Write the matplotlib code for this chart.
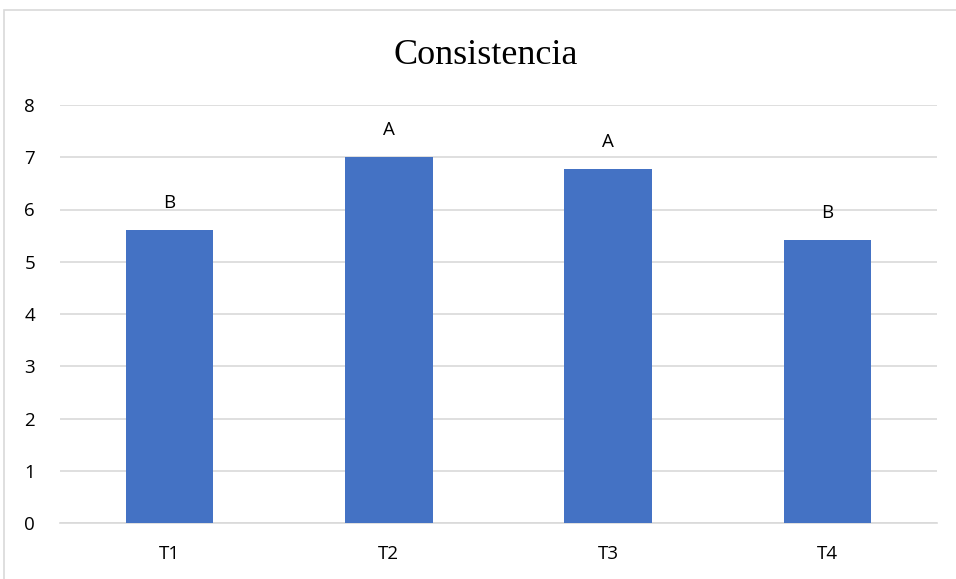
import matplotlib
matplotlib.use("Agg")
import matplotlib.pyplot as plt
from matplotlib.patches import Rectangle

categories = ["T1", "T2", "T3", "T4"]
values = [5.61, 7.0, 6.78, 5.42]
letters = ["B", "A", "A", "B"]
yticks = [0, 1, 2, 3, 4, 5, 6, 7, 8]

W, H = 956, 579
fig = plt.figure(figsize=(W / 100, H / 100), dpi=100)
fig.patch.set_facecolor("white")

# outer chart border
fig.patches.append(Rectangle((3.5 / W, -0.05), 1.2, 1 - 9.5 / H + 0.05,
                             transform=fig.transFigure, fill=False,
                             edgecolor="#d9d9d9", linewidth=1.2))

ax = fig.add_axes([60 / W, 1 - 523 / H, (937 - 60) / W, (523 - 105) / H])
x = list(range(len(categories)))
ax.bar(x, values, width=0.4, color="#4472c4", zorder=3)
ax.set_xlim(-0.5, len(categories) - 0.5)
ax.set_ylim(0, 8)
ax.set_yticks(yticks)
ax.set_xticks(x)
ax.set_xticklabels(categories)
ax.grid(axis="y", color="#d9d9d9", linewidth=1.2, zorder=0)
for s in ["top", "right", "left"]:
    ax.spines[s].set_visible(False)
ax.spines["bottom"].set_color("#d9d9d9")
ax.spines["bottom"].set_linewidth(1.2)
ax.tick_params(axis="both", length=0, labelsize=13.5, labelcolor="#000000")
ax.tick_params(axis="y", pad=18)
ax.tick_params(axis="x", pad=16)
for lab in ax.get_xticklabels() + ax.get_yticklabels():
    lab.set_fontfamily("Open Sans")

for xi, v, l in zip(x, values, letters):
    ax.annotate(l, (xi, v), xytext=(0, 13), textcoords="offset points",
                ha="center", va="bottom", fontsize=13.5, family="Open Sans")

fig.text(486 / W, 1 - 55 / H, "Consistencia", ha="center", va="center",
         fontsize=26, family="Liberation Serif")

fig.savefig("out.png", dpi=100)
